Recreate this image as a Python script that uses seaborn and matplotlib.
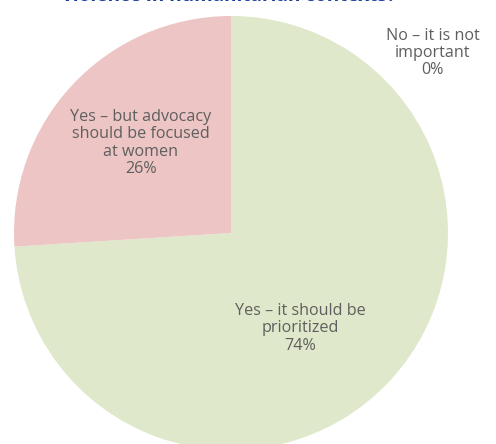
import matplotlib
matplotlib.use("Agg")
import matplotlib.pyplot as plt
import seaborn as sns
import numpy as np

categories = ["No – it is not\nimportant", "Yes – it should be\nprioritized",
              "Yes – but advocacy\nshould be focused\nat women"]
values = [0, 74, 26]
colors = ["#dfe8ca", "#dfe8ca", "#ecc5c4"]
title = "violence in humanitarian contexts?"

sns.set_theme(style="white")
plt.rcParams['font.family'] = ['Open Sans', 'DejaVu Sans']

W, H = 496, 444
fig = plt.figure(figsize=(W / 100, H / 100), dpi=100)
ax = fig.add_axes([0, 0, 1, 1])

cx, cy, r = 231, H - 233, 217
ax.pie(values, colors=colors, startangle=90, counterclock=False,
       center=(cx, cy), radius=r, frame=True,
       wedgeprops=dict(linewidth=0))
ax.set_xlim(0, W)
ax.set_ylim(0, H)
ax.set_aspect("auto")
ax.axis("off")

# label offsets (in radii) from the pie centre
offsets = [(0.93, 0.83), (0.32, -0.44), (-0.415, 0.415)]
for cat, v, (ox, oy) in zip(categories, values, offsets):
    ax.text(cx + ox * r, cy + oy * r, f"{cat}\n{v}%", ha="center", va="center",
            fontsize=11.6, color="#5f5f5f", linespacing=1.1)

fig.text(229 / W, 1 - 1.0 / H, title, ha="center", va="baseline",
         fontsize=13.7, fontweight="bold", color="#1f3f9f")

fig.savefig("out.png", dpi=100)
